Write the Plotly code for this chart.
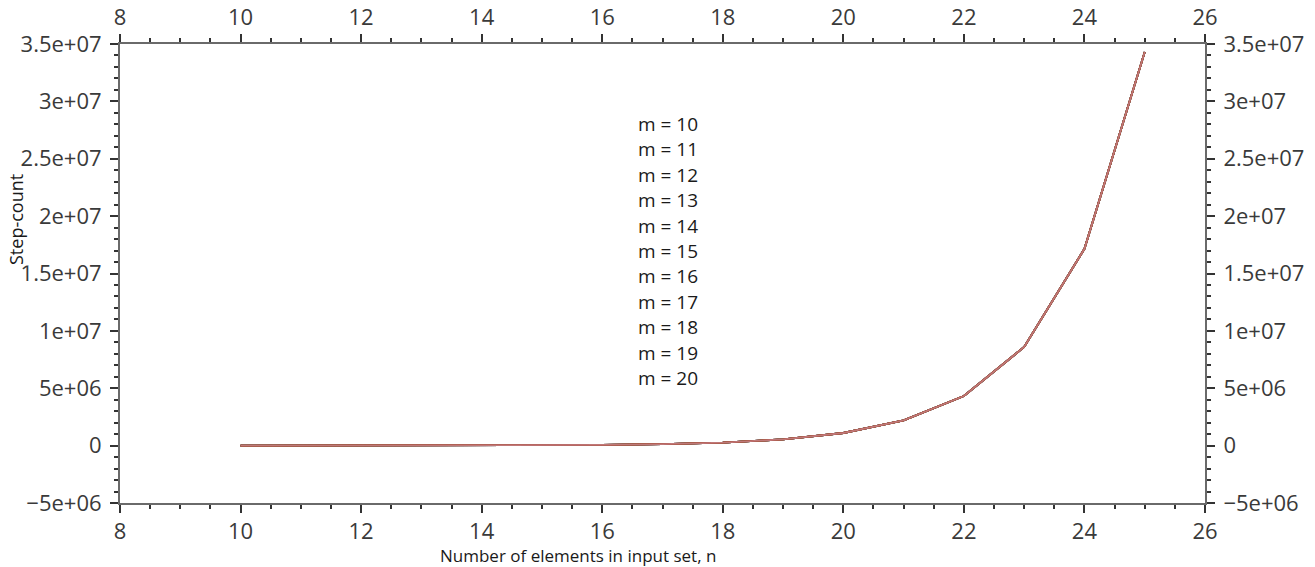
import plotly.graph_objects as go

# Data
n_values = [10, 11, 12, 13, 14, 15, 16, 17, 18, 19, 20, 21, 22, 23, 24, 25]
step_count = [1055, 2110, 4220, 8440, 16900, 33800, 67500, 135000, 270000,
              540000, 1100000, 2200000, 4320000, 8600000, 17150000, 34300000]
series_names = ["m = 10", "m = 11", "m = 12", "m = 13", "m = 14", "m = 15",
                "m = 16", "m = 17", "m = 18", "m = 19", "m = 20"]
series_colors = ["#00c8c8", "#d000d0", "#e0e000", "#2020e0", "#00a000",
                 "#ff0000", "#00c8c8", "#8000c0", "#e0e000", "#800000", "#c07878"]

x_tickvals = [8, 10, 12, 14, 16, 18, 20, 22, 24, 26]
y_tickvals = [-5e6, 0, 5e6, 1e7, 1.5e7, 2e7, 2.5e7, 3e7, 3.5e7]
y_ticktext = ["\u22125e+06", "0", "5e+06", "1e+07", "1.5e+07", "2e+07", "2.5e+07", "3e+07", "3.5e+07"]

W, H = 1315, 567
ML, MR, MT, MB = 120, 110, 44, 64
PW, PH = W - ML - MR, H - MT - MB

def px(x):
    return (x - ML) / PW

def py(y):
    return (H - MB - y) / PH

fig = go.Figure()
for name, color in zip(series_names, series_colors):
    fig.add_trace(go.Scatter(x=n_values, y=step_count, mode="lines", name=name,
                             line=dict(color=color, width=1.8), showlegend=False))

font_tick = dict(family="Open Sans", size=22, color="#3a3a3a")
axis_common = dict(showgrid=False, zeroline=False, showline=True, linecolor="#6a6a6a",
                   linewidth=2, ticks="outside", ticklen=8, tickwidth=1.5, tickcolor="#333333",
                   tickfont=font_tick, automargin=False)
minor_x = dict(dtick=0.5, tick0=8, ticklen=4, ticks="outside", tickcolor="#333333")
minor_y = dict(dtick=1e6, tick0=0, ticklen=4, ticks="outside", tickcolor="#333333")

fig.update_layout(
    template="none",
    width=W, height=H,
    margin=dict(l=ML, r=MR, t=MT, b=MB, autoexpand=False),
    paper_bgcolor="white", plot_bgcolor="white",
    xaxis=dict(range=[8, 26], tickvals=x_tickvals, side="bottom", minor=minor_x, **axis_common),
    xaxis2=dict(range=[8, 26], tickvals=x_tickvals, side="top", overlaying="x",
                minor=minor_x, **axis_common),
    yaxis=dict(range=[-5e6, 3.5e7], tickvals=y_tickvals, ticktext=y_ticktext, side="left",
               minor=minor_y, ticklabelstandoff=4, **axis_common),
    yaxis2=dict(range=[-5e6, 3.5e7], tickvals=y_tickvals, ticktext=y_ticktext, side="right",
                overlaying="y", minor=minor_y, ticklabelstandoff=4, **axis_common),
)
# invisible trace to activate secondary axes
fig.add_trace(go.Scatter(x=[8], y=[0], xaxis="x2", yaxis="y2", mode="markers",
                         marker=dict(opacity=0), showlegend=False, hoverinfo="skip"))

annotations = []
for i, name in enumerate(series_names):
    annotations.append(dict(text=name, x=px(668), y=py(124 + i * 25.4), xref="paper", yref="paper",
                            showarrow=False, xanchor="center", yanchor="middle",
                            font=dict(family="Open Sans", size=19, color="#1a1a1a")))
annotations.append(dict(text="Number of elements in input set, n", x=px(578), y=py(555),
                        xref="paper", yref="paper", showarrow=False, xanchor="center",
                        yanchor="middle", borderpad=0,
                        font=dict(family="Open Sans", size=17, color="#1a1a1a")))
annotations.append(dict(text="Step-count", x=px(16), y=py(219), xref="paper", yref="paper",
                        showarrow=False, xanchor="center", yanchor="middle", textangle=-90,
                        bgcolor="white", borderpad=0,
                        font=dict(family="Open Sans", size=18, color="#1a1a1a")))
fig.update_layout(annotations=annotations)

fig.write_html("out.html")
